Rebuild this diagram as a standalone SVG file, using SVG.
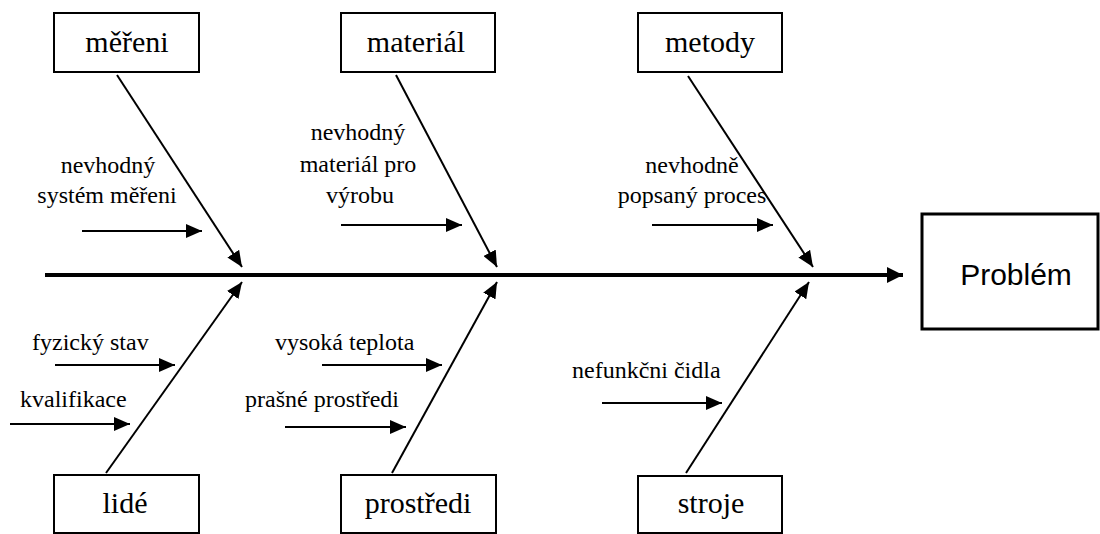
<svg xmlns="http://www.w3.org/2000/svg" width="1100" height="534" viewBox="0 0 1100 534">
<style>
.box{fill:#fff;stroke:#000;stroke-width:2}
.cat{font-family:"Liberation Serif","Times New Roman",serif;font-size:30px;fill:#000;text-anchor:middle}
.lbl{font-family:"Liberation Serif","Times New Roman",serif;font-size:24px;fill:#000}
.mid{text-anchor:middle}
.ln{stroke:#000;stroke-width:2;fill:none;marker-end:url(#ah)}
</style>
<defs>
<marker id="ah" markerUnits="userSpaceOnUse" viewBox="0 0 16 14" refX="16" refY="7" markerWidth="16" markerHeight="14" orient="auto">
<path d="M0,0 L16,7 L0,14 z" fill="#000"/>
</marker>
<marker id="ahm" markerUnits="userSpaceOnUse" viewBox="0 0 16 16" refX="16" refY="8" markerWidth="16" markerHeight="16" orient="auto">
<path d="M0,0 L16,8 L0,16 z" fill="#000"/>
</marker>
</defs>
<rect width="1100" height="534" fill="#fff"/>
<g id="connectors">
<line x1="45" y1="275" x2="903" y2="275" stroke="#000" stroke-width="4" marker-end="url(#ahm)"/>
<line class="ln" x1="117" y1="75" x2="242" y2="267"/>
<line class="ln" x1="396" y1="75" x2="497" y2="267"/>
<line class="ln" x1="688" y1="76" x2="813" y2="267"/>
<line class="ln" x1="106" y1="473" x2="242" y2="282"/>
<line class="ln" x1="392" y1="473" x2="497" y2="282"/>
<line class="ln" x1="686" y1="473" x2="809" y2="282"/>
<line class="ln" x1="82" y1="231" x2="202" y2="231"/>
<line class="ln" x1="341" y1="225" x2="462" y2="225"/>
<line class="ln" x1="652" y1="225" x2="773" y2="225"/>
<line class="ln" x1="55" y1="365" x2="175" y2="365"/>
<line class="ln" x1="10" y1="424" x2="130" y2="424"/>
<line class="ln" x1="322" y1="365" x2="442" y2="365"/>
<line class="ln" x1="285" y1="427" x2="406" y2="427"/>
<line class="ln" x1="602" y1="403" x2="722" y2="403"/>
</g>
<g id="mereni">
<rect class="box" x="54" y="13" width="145" height="59"/>
<text class="cat" x="127" y="52">měřeni</text>
</g>
<g id="material">
<rect class="box" x="341" y="13" width="154" height="59"/>
<text class="cat" x="416" y="52">materiál</text>
</g>
<g id="metody">
<rect class="box" x="638" y="13" width="144" height="59"/>
<text class="cat" x="710" y="52">metody</text>
</g>
<g id="lide">
<rect class="box" x="54" y="475" width="145" height="58"/>
<text class="cat" x="125" y="513">lidé</text>
</g>
<g id="prostredi">
<rect class="box" x="341" y="475" width="155" height="58"/>
<text class="cat" x="418" y="513">prostředi</text>
</g>
<g id="stroje">
<rect class="box" x="638" y="476" width="144" height="57"/>
<text class="cat" x="711" y="513">stroje</text>
</g>
<g id="problem">
<rect x="922" y="214" width="176" height="115" fill="#fff" stroke="#000" stroke-width="3"/>
<text x="1016" y="285" font-family="'Liberation Sans',Arial,sans-serif" font-size="30" text-anchor="middle" fill="#000">Problém</text>
</g>
<g id="labels">
<text class="lbl mid" x="108" y="173">nevhodný</text>
<text class="lbl mid" x="107" y="203">systém měřeni</text>
<text class="lbl mid" x="358" y="140">nevhodný</text>
<text class="lbl mid" x="358" y="172">materiál pro</text>
<text class="lbl mid" x="360" y="203">výrobu</text>
<text class="lbl mid" x="692" y="173">nevhodně</text>
<text class="lbl mid" x="692" y="203">popsaný proces</text>
<text class="lbl" x="32" y="350">fyzický stav</text>
<text class="lbl" x="20" y="407">kvalifikace</text>
<text class="lbl" x="275" y="350">vysoká teplota</text>
<text class="lbl" x="245" y="407">prašné prostředi</text>
<text class="lbl" x="572" y="378">nefunkčni čidla</text>
</g>
</svg>
